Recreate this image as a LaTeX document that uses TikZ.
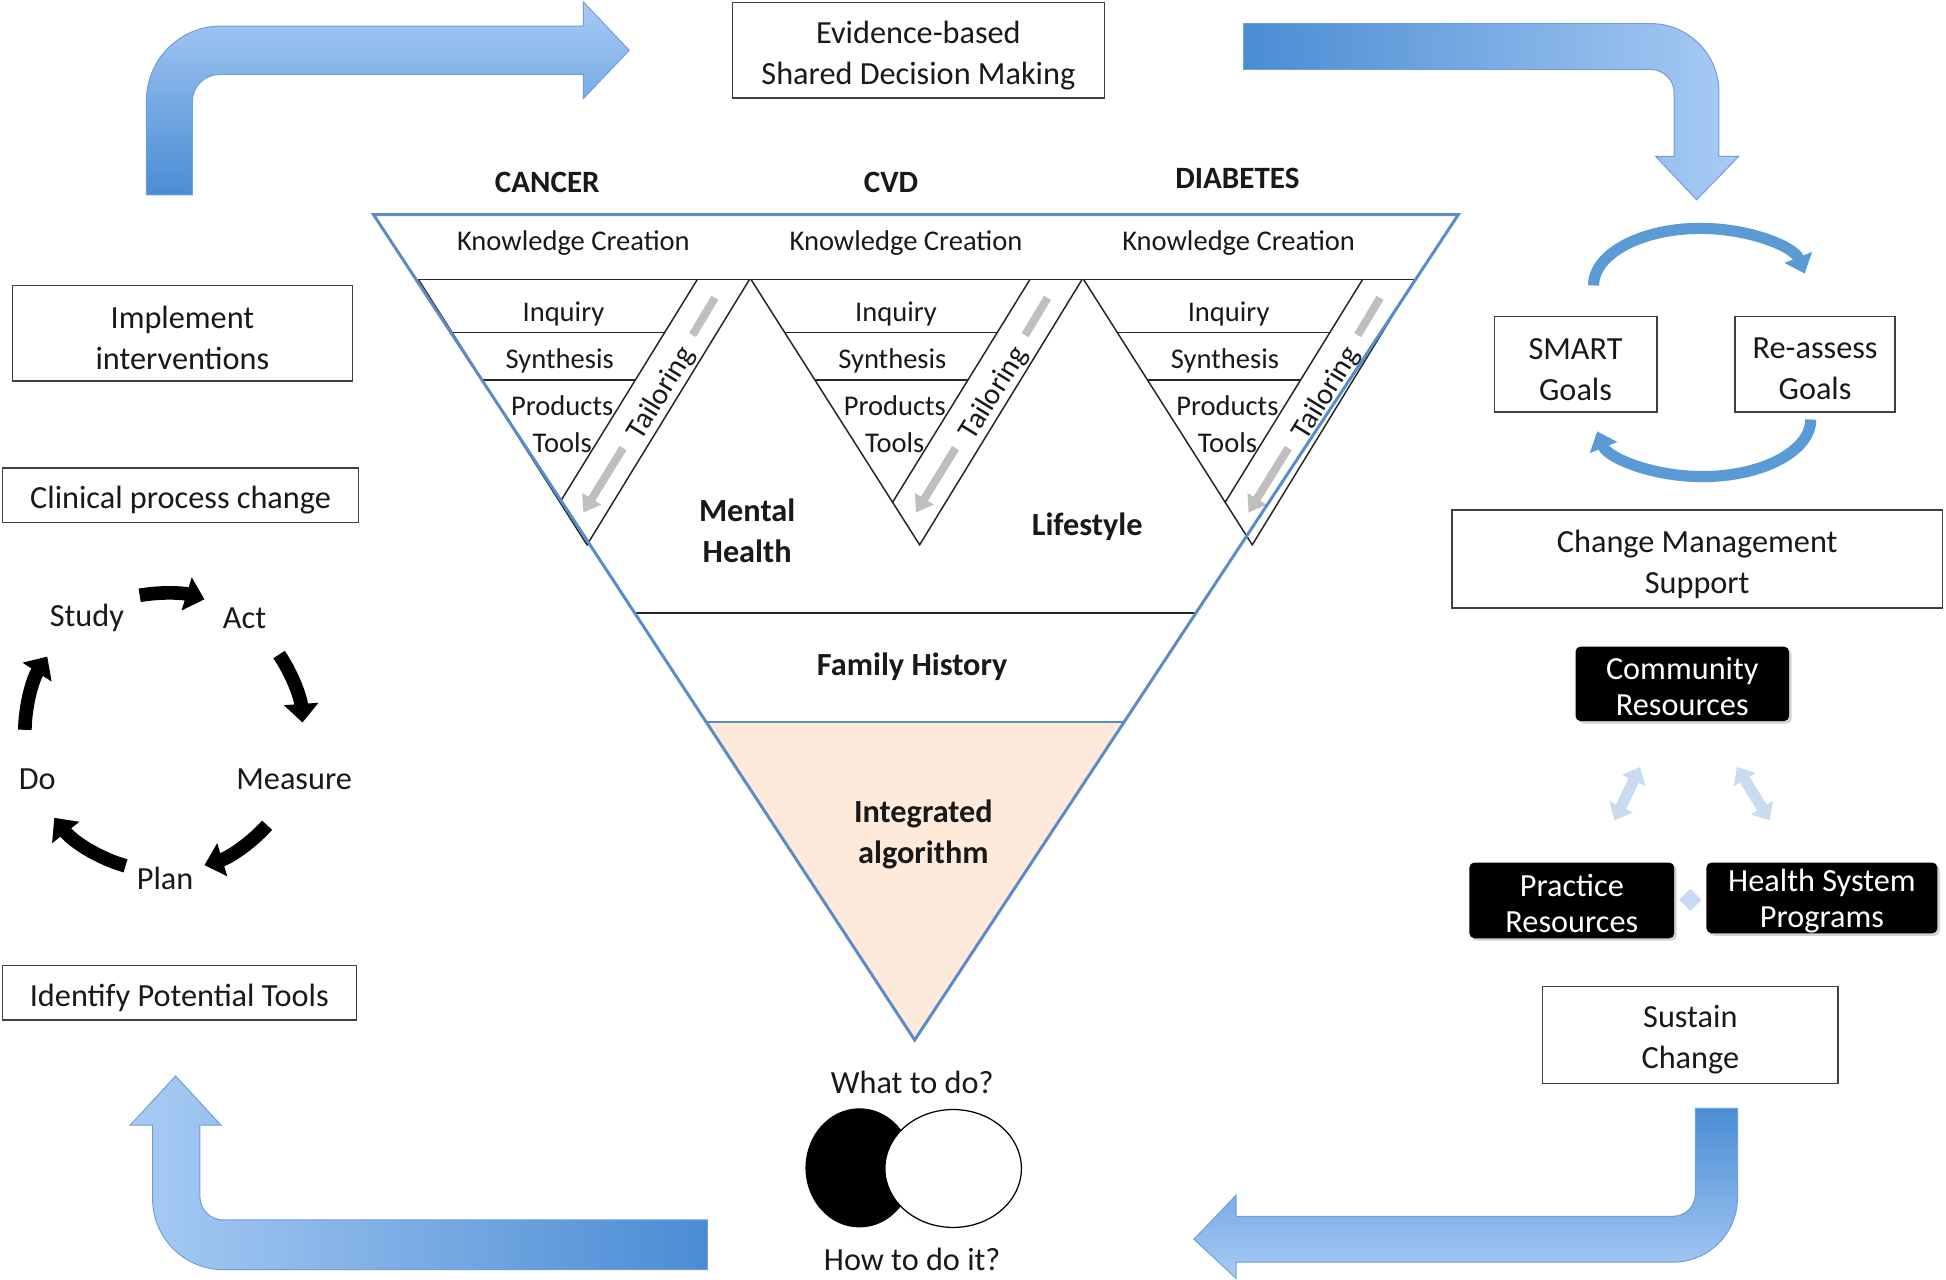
\documentclass[tikz,border=0pt]{standalone}
\usepackage{fontspec}
\setmainfont{Carlito}
\usetikzlibrary{arrows.meta,shadows,calc}
\definecolor{tri}{HTML}{5B8CC8}
\definecolor{peach}{HTML}{FDEADA}
\definecolor{bluedark}{HTML}{4A8CD4}
\definecolor{bluelight}{HTML}{A8CBF4}
\definecolor{blueedge}{HTML}{6E9FD9}
\definecolor{paleblue}{HTML}{C9DBF1}
\definecolor{goalblue}{HTML}{5B9BD5}
\definecolor{tailgrey}{HTML}{BFBFBF}
\begin{document}
\begin{tikzpicture}[x=1pt,y=-1pt,
  every node/.style={inner sep=0pt, text=black!90},
  box/.style={draw=black!75, line width=1.1pt, fill=white},
  boxtext/.style={font=\fontsize{26}{33}\selectfont, align=center, text=black!90, yshift=-4pt},
  blk/.style={fill=black, rounded corners=4pt, drop shadow={opacity=0.35,shadow xshift=2pt,shadow yshift=-2pt}},
  blktext/.style={font=\fontsize{26}{29}\selectfont, align=center, text=white, yshift=-2.5pt},
  lbl/.style={font=\fontsize{26}{33}\selectfont, align=center, yshift=-2pt},
  bld/.style={font=\fontsize{26}{33}\selectfont\bfseries, align=center, yshift=-2pt},
  hdr/.style={font=\fontsize{25}{30}\selectfont\bfseries, yshift=-1pt},
  small/.style={font=\fontsize{23}{28}\selectfont, yshift=-2pt},
  bigarrow/.style={draw=blueedge, line width=0.8pt},
  unitline/.style={draw=black!85, line width=1.2pt},
  tailarrow/.style={draw=tailgrey, line width=6.5pt},
  cycarrow/.style={line width=11pt, -{Triangle[width=27pt,length=15pt]}},
  goalarrow/.style={goalblue, line width=9pt, -{Triangle[width=23pt,length=14pt]}},
  dblarrow/.style={paleblue, line width=9pt, {Triangle[width=20pt,length=12pt]}-{Triangle[width=20pt,length=12pt]}}
]
\useasboundingbox (0,0) rectangle (1568,1031);
\fill[white] (0,0) rectangle (1568,1031);

% ---------- big bent arrows ----------
\shadedraw[bigarrow, top color=bluelight, bottom color=bluedark]
 (118,157) -- (118,81) .. controls (118,47.9) and (144.9,21) .. (178,21) -- (470,21) -- (470,1.5) -- (507,40.5) -- (470,79.5) -- (470,60) -- (177,60) .. controls (164.8,60) and (155,69.8) .. (155,82) -- (155,157) -- cycle;
\shadedraw[bigarrow, left color=bluedark, right color=bluelight]
 (1002,19) -- (1330,19) .. controls (1360.4,19) and (1385,43.6) .. (1385,74) -- (1385,126) -- (1401,126) -- (1367,161) -- (1334,126) -- (1349,126) -- (1349,75) .. controls (1349,64.5) and (1340.5,56) .. (1330,56) -- (1002,56) -- cycle;
\shadedraw[bigarrow, top color=bluedark, bottom color=bluelight]
 (1366,893) -- (1400,893) -- (1400,965) .. controls (1400,993.7) and (1376.7,1017) .. (1348,1017) -- (996,1017) -- (996,1030) -- (962,998.5) -- (996,963) -- (996,980) -- (1348,980) .. controls (1357.9,980) and (1366,971.9) .. (1366,962) -- cycle;
\shadedraw[bigarrow, left color=bluelight, right color=bluedark]
 (570,983) -- (180,983) .. controls (169.5,983) and (161,974.5) .. (161,964) -- (161,906.5) -- (178,906.5) -- (141.5,867) -- (105,906.5) -- (123,906.5) -- (123,966) .. controls (123,997.5) and (148.5,1023) .. (180,1023) -- (570,1023) -- cycle;

% ---------- top box ----------
\node[box, minimum width=300pt, minimum height=77pt, label={[boxtext]center:{Evidence-based\\Shared Decision Making}}] (esdm) at (740,40.5) {};

% ---------- headers ----------
\node[hdr] (cancer) at (441,146) {CANCER};
\node[hdr] (cvd) at (718,146) {CVD};
\node[hdr] (diab) at (997,143) {DIABETES};

% ---------- main triangle ----------
\coordinate (A) at (301,173);
\coordinate (B) at (1175,173);
\coordinate (C) at (737,838);
\coordinate (FL) at ($(A)!0.4827!(C)$);
\coordinate (FR) at ($(B)!0.4827!(C)$);
\coordinate (IL) at ($(A)!0.615!(C)$);
\coordinate (IR) at ($(B)!0.615!(C)$);
\fill[white] (A) -- (B) -- (C) -- cycle;
\fill[peach] (IL) -- (IR) -- (C) -- cycle;
\draw[draw=black!85, line width=1.5pt] (FL) -- (FR);
\draw[tri, line width=1.8pt] (IL) -- (IR);
\draw[unitline] (337,225) -- (1140,225);

\foreach \k in {0,1,2}{
  \pgfmathsetmacro{\dx}{268*\k}
  \draw[unitline, line join=miter] (337+\dx,225) -- (473+\dx,439) -- (604+\dx,225);
  \draw[unitline] (562+\dx,225) -- (451+\dx,405);
  \draw[unitline] (364.3+\dx,268) -- (535.5+\dx,268);
  \draw[unitline] (388.5+\dx,306) -- (512+\dx,306);
  \node[small] (kc\k) at (462+\dx,194) {Knowledge Creation};
  \node[small] (inq\k) at (454+\dx,251) {Inquiry};
  \node[small] (syn\k) at (451+\dx,289) {Synthesis};
  \node[small] (prod\k) at (453+\dx,325) {Products};
  \node[small] (tool\k) at (453+\dx,355) {Tools};
  \coordinate (ta\k) at (576+\dx,240);
  \coordinate (tb\k) at (558+\dx,270);
  \coordinate (tc\k) at (502+\dx,361);
  \coordinate (td\k) at (470+\dx,413);
  \draw[tailarrow] (ta\k) -- (tb\k);
  \draw[tailarrow, -{Triangle[width=17pt,length=13pt]}] (tc\k) -- (td\k);
  \node[font=\fontsize{24}{28}\selectfont, rotate=58.5] (tail\k) at (533+\dx,317) {Tailoring};
}
\draw[tri, line width=2.4pt, line join=miter] (A) -- (B) -- (C) -- cycle;

\node[bld] (mental) at (602,426) {Mental\\Health};
\node[bld] (life) at (876,422) {Lifestyle};
\node[bld] (family) at (735,535) {Family History};
\node[bld] (integ) at (744,670.5) {Integrated\\algorithm};

% ---------- bottom: what / how ----------
\node[lbl] (what) at (735,870) {What to do?};
\fill[black] (692.5,941) ellipse [x radius=43.5pt, y radius=48pt];
\draw[fill=white, draw=black, line width=1pt] (768,941.5) ellipse [x radius=55pt, y radius=47.5pt];
\node[lbl] (how) at (735,1013) {How to do it?};

% ---------- left column ----------
\node[box, minimum width=274pt, minimum height=77pt, label={[boxtext]center:{Implement\\interventions}}] (impl) at (147,268.5) {};
\node[box, minimum width=287pt, minimum height=44pt, label={[boxtext]center:{Clinical process change}}] (clin) at (145.5,399) {};
\node[box, minimum width=285pt, minimum height=44pt, label={[boxtext]center:{Identify Potential Tools}}] (ident) at (144.5,800) {};

\node[lbl] (study) at (70,496) {Study};
\node[lbl] (act) at (197,496) {Act};
\node[lbl] (measure) at (237,626) {Measure};
\node[lbl] (plan) at (133,706) {Plan};
\node[lbl] (do) at (30,626) {Do};
\coordinate (cyc) at (132,590);
\draw[cycarrow] ($(cyc)+(-100:112)$) arc[start angle=-100, end angle=-73, radius=112];
\draw[cycarrow] ($(cyc)+(-34:112)$) arc[start angle=-34, end angle=-4, radius=112];
\draw[cycarrow] ($(cyc)+(42:112)$) arc[start angle=42, end angle=73, radius=112];
\draw[cycarrow] ($(cyc)+(106:112)$) arc[start angle=106, end angle=142, radius=112];
\draw[cycarrow] ($(cyc)+(181:112)$) arc[start angle=181, end angle=213, radius=112];

% ---------- right column ----------
\node[box, minimum width=131pt, minimum height=77pt, label={[boxtext]center:{SMART\\Goals}}] (smart) at (1269.5,293.5) {};
\node[box, minimum width=129pt, minimum height=77pt, label={[boxtext]center:{Re-assess\\Goals}}] (reass) at (1462.5,293.5) {};
\coordinate (gtop) at (1370,230);
\coordinate (gbot) at (1372,338);
\draw[goalarrow] ($(gtop)+(-86,0)$) arc[start angle=180, end angle=348, x radius=86, y radius=46];
\draw[goalarrow] ($(gbot)+(87,0)$) arc[start angle=0, end angle=168, x radius=87, y radius=46];

\node[box, minimum width=395pt, minimum height=79pt, label={[boxtext]center:{Change Management\\Support}}] (cms) at (1367.5,450.5) {};

\node[blk, minimum width=172pt, minimum height=60pt, label={[blktext]center:{Community\\Resources}}] (comm) at (1355.5,551) {};
\node[blk, minimum width=165pt, minimum height=61pt, label={[blktext]center:{Practice\\Resources}}] (prac) at (1266.5,725.5) {};
\node[blk, minimum width=186pt, minimum height=57pt, label={[blktext]center:{Health System\\Programs}}] (hsp) at (1468,723.5) {};
\coordinate (d1a) at (1321.5,618);
\coordinate (d1b) at (1301,661);
\coordinate (d2a) at (1399.5,618);
\coordinate (d2b) at (1426,661);
\draw[dblarrow] (d1a) -- (d1b);
\draw[dblarrow] (d2a) -- (d2b);
\fill[paleblue] (1362,716) -- (1371,725) -- (1362,734) -- (1353,725) -- cycle;

\node[box, minimum width=238pt, minimum height=78pt, label={[boxtext]center:{Sustain\\Change}}] (sust) at (1362,834) {};
\end{tikzpicture}
\end{document}
